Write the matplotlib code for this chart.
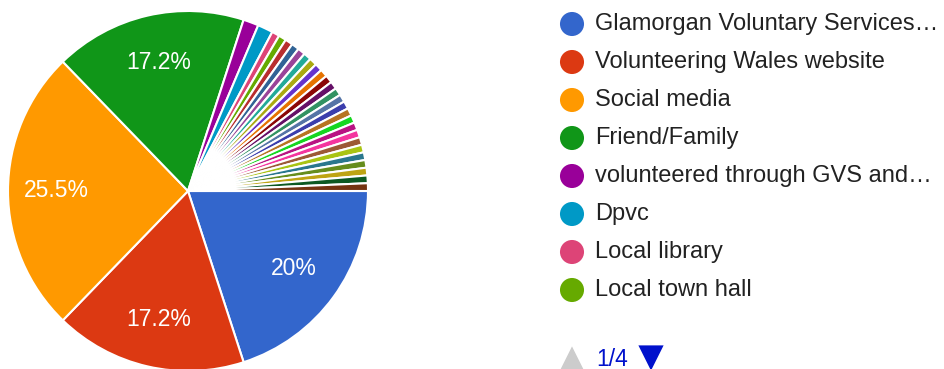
import numpy as np
import matplotlib
matplotlib.use('Agg')
import matplotlib.pyplot as plt

plt.rcParams['font.family'] = ['Liberation Sans', 'DejaVu Sans']

# responses per answer, in chart order (145 in total)
counts = [29, 25, 37, 25, 2, 2] + [1] * 25

colors = ['#3366cc', '#dc3912', '#ff9900', '#109618', '#990099', '#0099c6',
          '#dd4477', '#66aa00', '#b82e2e', '#316395', '#994499', '#22aa99',
          '#aaaa11', '#6633cc', '#e67300', '#8b0707', '#651067', '#329262',
          '#5574a6', '#3b3eac', '#b77322', '#16d620', '#b91383', '#f4359e',
          '#9c5935', '#a9c413', '#2a778d', '#668d1c', '#bea413', '#0c5922',
          '#743411']

# first page of the legend
legend_labels = ['Glamorgan Voluntary Services\u2026',
                 'Volunteering Wales website',
                 'Social media',
                 'Friend/Family',
                 'volunteered through GVS and\u2026',
                 'Dpvc',
                 'Local library',
                 'Local town hall']
page_text = '1/4'

W, H = 944, 369
fig = plt.figure(figsize=(W / 100, H / 100), dpi=100)

# pie: centre (188, 191) px, radius 180 px
cx, cy, r = 188, 191, 180
ax = fig.add_axes([(cx - r) / W, (H - cy - r) / H, 2 * r / W, 2 * r / H])


def fmt_pct(p):
    if p < 5:
        return ''
    s = '%.1f' % p
    if s.endswith('.0'):
        s = s[:-2]
    return s + '%'


wedges, texts, autotexts = ax.pie(
    counts, colors=colors[:len(counts)], startangle=0, counterclock=False,
    autopct=fmt_pct, pctdistance=0.73,
    wedgeprops=dict(edgecolor='white', linewidth=1.5),
    textprops=dict(color='white', fontsize=16.5))
ax.set_xlim(-1, 1)
ax.set_ylim(-1, 1)
ax.axis('off')

# legend in pixel coordinates
lax = fig.add_axes([0, 0, 1, 1])
lax.set_xlim(0, W)
lax.set_ylim(H, 0)
lax.axis('off')

y0, dy = 24, 38
for i, lab in enumerate(legend_labels):
    y = y0 + i * dy
    lax.scatter([572], [y], s=300, color=colors[i], edgecolors='none')
    lax.text(595, y, lab, fontsize=17, color='#222222', va='center', ha='left')

lax.scatter([572], [359], s=330, marker='^', color='#cccccc', edgecolors='none')
lax.text(596, 359, page_text, fontsize=16.5, color='#0011cc', va='center', ha='left')
lax.scatter([651], [358], s=330, marker='v', color='#0011cc', edgecolors='none')

fig.savefig('out.png', dpi=100)
